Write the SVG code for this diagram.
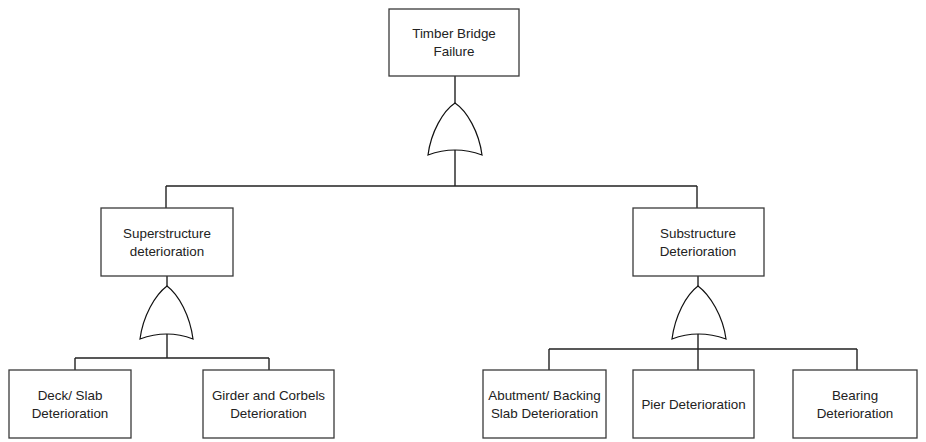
<svg xmlns="http://www.w3.org/2000/svg" width="926" height="442" viewBox="0 0 926 442">
<style>
.box{fill:#fff;stroke:#3a3a3a;stroke-width:1.3}
.gate{fill:#fff;stroke:#111;stroke-width:1.2}
.ln{fill:none;stroke:#222;stroke-width:1.4}
text{font-family:"Liberation Sans",Arial,sans-serif;font-size:13.4px;fill:#222;text-anchor:middle}
</style>
<rect width="926" height="442" fill="#fff"/>
<g id="connectors">
<path class="ln" d="M455,76V103M455,150V186M166,186H697M166,186V208M697,186V208"/>
<path class="ln" d="M167,276V286M167,334V358M75,358H269M75,358V370M269,358V370"/>
<path class="ln" d="M698,276V286M698,334V349M549,349H857M549,349V370M698,349V370M857,349V370"/>
</g>
<g id="gate-top"><path class="gate" d="M428,155C431,132 443,111 455,103C467,111 479,132 482,155Q455,145 428,155Z"/></g>
<g id="gate-super"><path class="gate" d="M140,339C143,316 155,295 167,286C179,295 190,316 193,339Q167,329 140,339Z"/></g>
<g id="gate-sub"><path class="gate" d="M672,339C675,316 686,295 698,286C710,295 723,316 726,339Q698,329 672,339Z"/></g>
<g id="n-top"><rect class="box" x="389" y="9" width="130" height="67"/><text x="454" y="38">Timber Bridge</text><text x="454" y="56">Failure</text></g>
<g id="n-super"><rect class="box" x="101" y="208" width="132" height="68"/><text x="167" y="237.5">Superstructure</text><text x="167" y="255.5">deterioration</text></g>
<g id="n-sub"><rect class="box" x="633" y="208" width="131" height="68"/><text x="698" y="237.5">Substructure</text><text x="698" y="255.5">Deterioration</text></g>
<g id="n-deck"><rect class="box" x="9" y="370" width="122" height="68"/><text x="70" y="399.5">Deck/ Slab</text><text x="70" y="417.5">Deterioration</text></g>
<g id="n-girder"><rect class="box" x="203" y="370" width="131" height="68"/><text x="268.5" y="399.5">Girder and Corbels</text><text x="268.5" y="417.5">Deterioration</text></g>
<g id="n-abut"><rect class="box" x="483" y="370" width="123" height="68"/><text x="544.5" y="399.5">Abutment/ Backing</text><text x="544.5" y="417.5">Slab Deterioration</text></g>
<g id="n-pier"><rect class="box" x="633" y="370" width="121" height="68"/><text x="693.5" y="408.5">Pier Deterioration</text></g>
<g id="n-bearing"><rect class="box" x="793" y="370" width="124" height="68"/><text x="855" y="399.5">Bearing</text><text x="855" y="417.5">Deterioration</text></g>
</svg>
